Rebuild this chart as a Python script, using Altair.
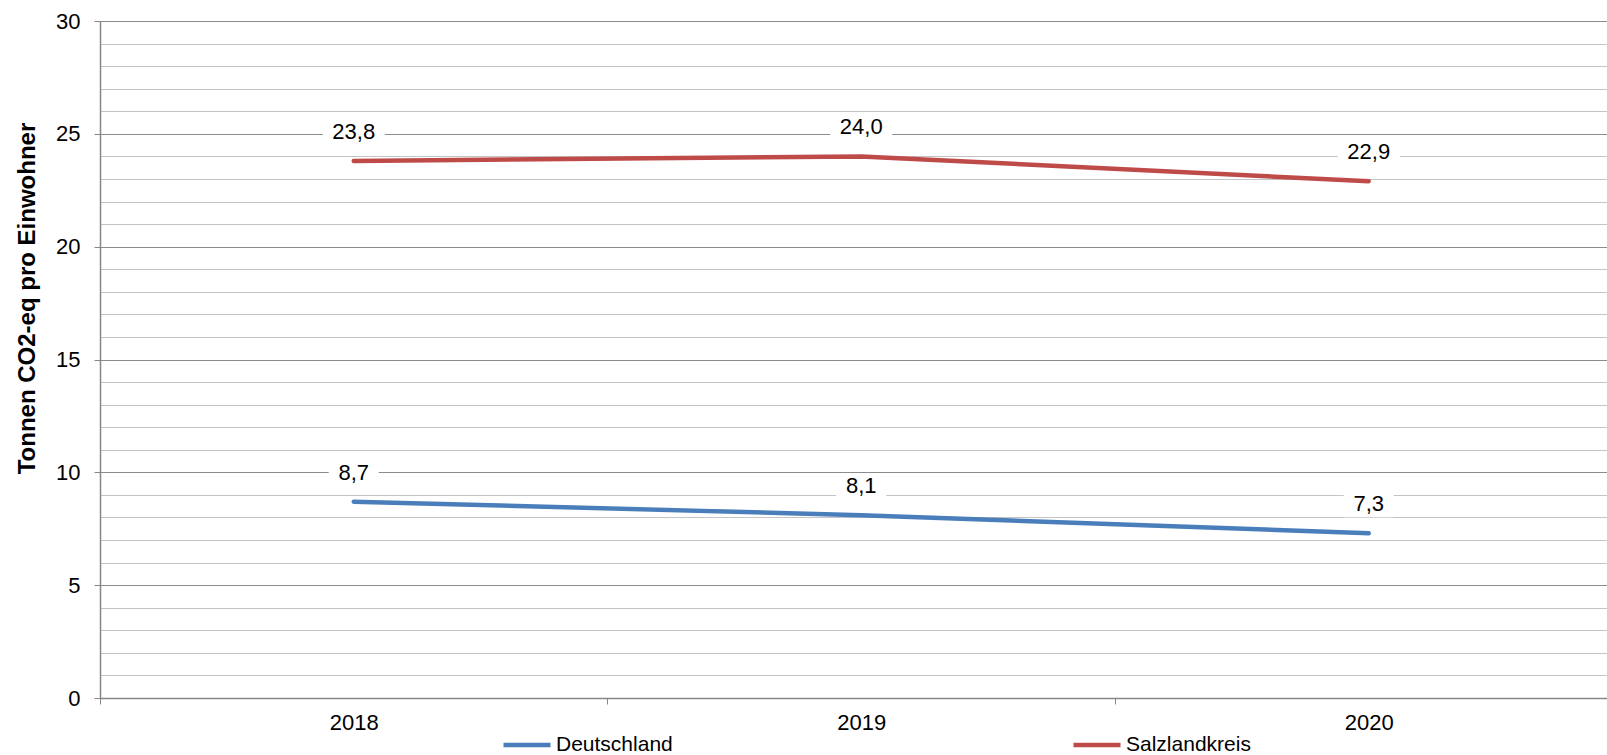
import altair as alt
import pandas as pd

years = [2018, 2019, 2020]
series_names = ["Deutschland", "Salzlandkreis"]
deutschland = [8.7, 8.1, 7.3]
salzlandkreis = [23.8, 24.0, 22.9]
labels_de = ["8,7", "8,1", "7,3"]
labels_sl = ["23,8", "24,0", "22,9"]
colors = ["#4A7EBB", "#BE4B48"]

rows = []
for y, v, l in zip(years, deutschland, labels_de):
    rows.append({"Jahr": y, "Wert": v, "Label": l, "Serie": "Deutschland"})
for y, v, l in zip(years, salzlandkreis, labels_sl):
    rows.append({"Jahr": y, "Wert": v, "Label": l, "Serie": "Salzlandkreis"})
df = pd.DataFrame(rows)

FONT = "Liberation Sans"

x_enc = alt.X(
    "Jahr:Q",
    title=None,
    scale=alt.Scale(domain=[2017.5, 2020.4695], nice=False, zero=False),
    axis=alt.Axis(
        values=[2017.5, 2018, 2018.5, 2019, 2019.5, 2020],
        labelExpr="datum.value % 1 === 0 ? '' + datum.value : ''",
        labelOverlap=False,
        tickOpacity={"condition": {"test": "datum.value % 1 !== 0", "value": 1}, "value": 0},
        grid=False,
        tickSize=6,
        tickColor="#868686",
        domainColor="#868686",
        domainWidth=1.5,
        labelFontSize=22,
        labelColor="#000000",
        labelPadding=8,
        labelFont=FONT,
    ),
)

y_enc = alt.Y(
    "Wert:Q",
    scale=alt.Scale(domain=[0, 30], nice=False),
    axis=alt.Axis(
        values=list(range(0, 31)),
        labelExpr="datum.value % 5 === 0 ? datum.label : ''",
        labelOverlap=False,
        gridColor={"condition": {"test": "datum.value % 5 === 0", "value": "#8C8C8C"}, "value": "#C4C4C4"},
        gridWidth=1.2,
        tickOpacity={"condition": {"test": "datum.value % 5 === 0", "value": 1}, "value": 0},
        tickSize=6,
        tickColor="#868686",
        domainColor="#868686",
        domainWidth=1.5,
        labelFontSize=22,
        labelColor="#000000",
        labelPadding=14,
        labelFont=FONT,
        title="Tonnen CO2-eq pro Einwohner",
        titleFontSize=24,
        titleFontWeight="bold",
        titleFont=FONT,
        titleColor="#000000",
        titleAngle=270,
        titleX=-73,
        titleY=277,
        titleAlign="center",
        titleBaseline="middle",
    ),
)

color_enc = alt.Color(
    "Serie:N",
    scale=alt.Scale(domain=series_names, range=colors),
    legend=alt.Legend(
        title=None,
        orient="none",
        legendX=401,
        legendY=698,
        direction="horizontal",
        symbolType="stroke",
        symbolSize=2209,
        symbolStrokeWidth=4.5,
        labelFontSize=21,
        labelFont=FONT,
        labelColor="#000000",
        labelOffset=3,
        columnPadding=391,
    ),
)

base = alt.Chart(df)

lines = base.mark_line(strokeWidth=4.5, strokeCap="round").encode(x=x_enc, y=y_enc, color=color_enc)

box_sl = base.transform_filter(alt.datum.Serie == "Salzlandkreis").mark_rect(
    width=62, height=26, yOffset=-29, color="white"
).encode(x=x_enc, y=y_enc)
box_de = base.transform_filter(alt.datum.Serie == "Deutschland").mark_rect(
    width=50, height=26, yOffset=-29, color="white"
).encode(x=x_enc, y=y_enc)

texts = base.mark_text(fontSize=22, dy=-29, align="center", baseline="middle", font=FONT, color="#000000").encode(
    x=x_enc, y=y_enc, text="Label:N"
)

chart = alt.layer(lines, box_sl, box_de, texts).properties(
    width=1507,
    height=677,
    padding={"left": 100, "top": 21, "right": 0, "bottom": 57},
    autosize="none",
).configure(font=FONT).configure_view(stroke=None)

chart.save("out.html", embed_options={"renderer": "svg", "actions": False})
